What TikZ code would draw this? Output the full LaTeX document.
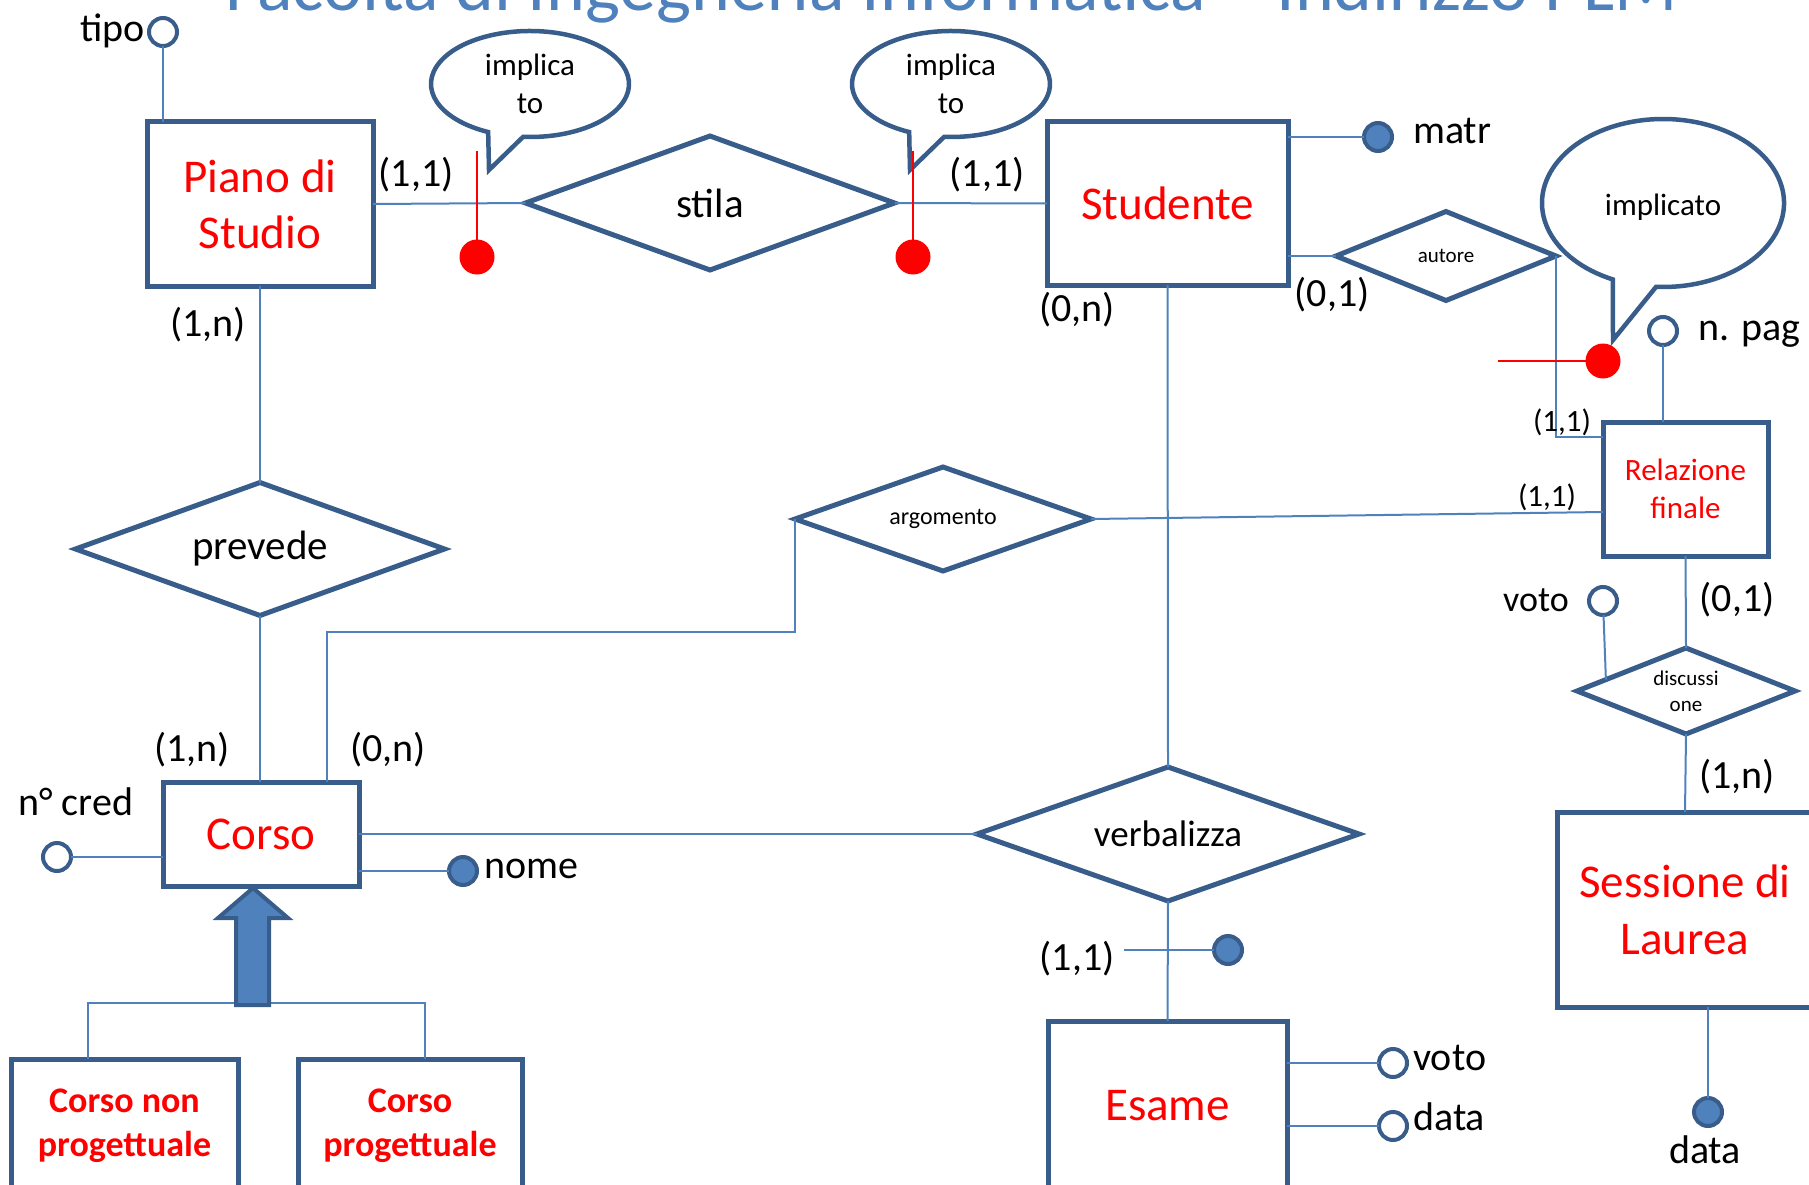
\documentclass[tikz,border=0pt]{standalone}
\usepackage{fontspec}
\setmainfont{Carlito}
\usetikzlibrary{shapes.geometric,calc}
\definecolor{bord}{HTML}{385D8A}
\definecolor{conn}{HTML}{4F81BD}
\begin{document}
\begin{tikzpicture}[x=1pt,y=-1pt,
  entsh/.style={rectangle,draw=bord,line width=5pt,fill=white,inner sep=0pt,outer sep=0pt,text=red,align=center,font=\fontsize{47}{56}\selectfont},
  relsh/.style={diamond,aspect=2.7,draw=bord,line width=5pt,fill=white,inner sep=0pt,outer sep=0pt,align=center,text=black},
  cn/.style={draw=conn,line width=2pt},
  attro/.style={circle,draw=bord,line width=4pt,fill=white,minimum size=28pt,inner sep=0pt,outer sep=0pt},
  attrf/.style={attro,fill=conn},
  lbl/.style={inner sep=0pt,text=black,font=\fontsize{40}{48}\selectfont},
  slbl/.style={inner sep=0pt,text=black,font=\fontsize{31}{38}\selectfont},
  redl/.style={draw=red,line width=2pt},
  redd/.style={circle,fill=red,minimum size=35pt,inner sep=0pt,outer sep=0pt},
  callout/.style={draw=bord,line width=4.5pt,fill=white}
]
\useasboundingbox (0,0) rectangle (1809,1185);

% title
\node[anchor=base west,inner sep=0pt,text=conn,font=\fontsize{74}{88}\selectfont] (title) at (225,11) {Facoltà di Ingegneria Informatica – Indirizzo PLM};

% helper coordinates
\coordinate (k1) at (327,632);
\coordinate (g1) at (88,1003);
\coordinate (g2) at (425,1003);
\coordinate (vs) at (1124,950);

% entities
\node[entsh,minimum width=226pt,minimum height=164pt] (piano) at (260,204) {Piano di\\Studio};
\node[entsh,minimum width=241pt,minimum height=163pt] (stud) at (1167.5,203.5) {Studente};
\node[entsh,minimum width=196pt,minimum height=104pt] (corso) at (261,834) {Corso};
\node[entsh,minimum width=165pt,minimum height=134pt,font=\fontsize{31}{38}\selectfont] (relf) at (1685.5,489) {Relazione\\finale};
\node[entsh,minimum width=256pt,minimum height=195pt,font=\fontsize{47}{57}\selectfont] (sess) at (1685,909.5) {Sessione di\\Laurea};
\node[entsh,minimum width=239pt,minimum height=170pt] (esame) at (1167.5,1106) {Esame};
\node[entsh,minimum width=227pt,minimum height=134pt,font=\bfseries\fontsize{36}{44}\selectfont] (cnp) at (124.5,1126) {Corso non\\progettuale};
\node[entsh,minimum width=224pt,minimum height=134pt,font=\bfseries\fontsize{36}{44}\selectfont] (cp) at (410,1126) {Corso\\progettuale};

% relationships
\node[relsh,minimum width=369pt,minimum height=134pt,font=\fontsize{41}{49}\selectfont] (stila) at (710,203) {stila};
\node[relsh,minimum width=369pt,minimum height=133pt,font=\fontsize{41}{49}\selectfont] (prevede) at (260,549) {prevede};
\node[relsh,minimum width=296pt,minimum height=104pt,font=\fontsize{24}{29}\selectfont] (argom) at (943,519) {argomento};
\node[relsh,minimum width=220pt,minimum height=89pt,font=\fontsize{21}{25}\selectfont] (autore) at (1446,256) {autore};
\node[relsh,minimum width=218pt,minimum height=86pt,font=\fontsize{21}{26}\selectfont] (discuss) at (1686,691) {discussi\\one};
\node[relsh,minimum width=382pt,minimum height=134pt,font=\fontsize{37}{44}\selectfont] (verbal) at (1168,834) {verbalizza};

% attributes
\node[attro] (tipo) at (163,32) {};
\node[attrf] (matr) at (1378,137) {};
\node[attro] (npag) at (1663,331) {};
\node[attro] (ncred) at (57,857) {};
\node[attrf] (nome) at (463,871) {};
\node[attro] (voto2) at (1603,601) {};
\node[attro] (evoto) at (1393,1063) {};
\node[attro] (edata) at (1393,1126) {};
\node[attrf] (vatt) at (1228,950) {};
\node[attrf] (sdata) at (1708,1112) {};

% connector lines
\draw[cn] (piano.east) -- (stila.west);
\draw[cn] (stila.east) -- (stud.west);
\draw[cn] (piano.south) -- (prevede.north);
\draw[cn] (prevede.south) -- (prevede.south |- corso.north);
\draw[cn] (corso.north -| k1) -- (k1) -| (argom.west);
\draw[cn] (argom.east) -- ([yshift=-23pt]relf.west);
\draw[cn] (stud.south) -- (verbal.north);
\draw[cn] (corso.east) -- (verbal.west);
\draw[cn] (verbal.south) -- (esame.north);
\draw[cn] (stud.east |- autore.west) -- (autore.west);
\draw[cn] (autore.east) |- ([yshift=52pt]relf.west);
\draw[cn] (relf.south) -- (discuss.north);
\draw[cn] (discuss.south) -- (sess.north);
\draw[cn] (tipo) -- (tipo |- piano.north);
\draw[cn] (stud.east |- matr) -- (matr);
\draw[cn] (npag) -- (npag |- relf.north);
\draw[cn] (ncred) -- (ncred -| corso.west);
\draw[cn] (nome -| corso.east) -- (nome);
\draw[cn] (voto2) -- ($(discuss.west)!0.265!(discuss.north)$);
\draw[cn] (esame.east |- evoto) -- (evoto);
\draw[cn] (esame.east |- edata) -- (edata);
\draw[cn] (vs) -- (vatt);
\draw[cn] (sdata |- sess.south) -- (sdata);
\draw[cn] (cnp.north -| g1) |- (g2) -- (g2 |- cp.north);

% generalization arrow
\draw[draw=bord,fill=conn,line width=4pt,line join=miter]
  (236,1005) -- (236,918) -- (218,918) -- (253,888) -- (288,918) -- (269,918) -- (269,1005) -- cycle;

% callouts
\coordinate (c1) at (530,84);
\coordinate (c2) at (951,84);
\coordinate (c3) at (1663,203);
\draw[callout] (c1) ++(115:99 and 53) arc[start angle=115,end angle=454,x radius=99,y radius=53] -- (489,170) -- cycle;
\draw[callout] (c2) ++(115:99 and 53) arc[start angle=115,end angle=454,x radius=99,y radius=53] -- (910,170) -- cycle;
\draw[callout] (c3) ++(114.5:121 and 84) arc[start angle=114.5,end angle=453.3,x radius=121,y radius=84] -- (1613,340) -- cycle;
\node[slbl,anchor=base] (i1a) at (530,76) {implica};
\node[slbl,anchor=base] (i1b) at (530,114) {to};
\node[slbl,anchor=base] (i2a) at (951,76) {implica};
\node[slbl,anchor=base] (i2b) at (951,114) {to};
\node[slbl,anchor=base] (i3) at (1663,215) {implicato};

% red markers
\node[redd] (rd1) at (477,257) {};
\node[redd] (rd2) at (913,257) {};
\node[redd] (rd3) at (1603,361) {};
\coordinate (rt1) at (477,151);
\coordinate (rt2) at (913,151);
\coordinate (rt3) at (1498,361);
\draw[redl] (rt1) -- (rd1);
\draw[redl] (rt2) -- (rd2);
\draw[redl] (rt3) -- (rd3);

% labels
\node[lbl] (l1) at (416,175) {(1,1)};
\node[lbl] (l2) at (987,175) {(1,1)};
\node[lbl] (l3) at (208,325) {(1,n)};
\node[lbl] (l4) at (1077,310) {(0,n)};
\node[lbl] (l5) at (1332,295) {(0,1)};
\node[slbl] (l6) at (1562,422) {(1,1)};
\node[slbl] (l7) at (1547,497) {(1,1)};
\node[lbl] (l8) at (1737,600) {(0,1)};
\node[lbl] (l9) at (1737,777) {(1,n)};
\node[lbl] (l10) at (192,750) {(1,n)};
\node[lbl] (l11) at (388,750) {(0,n)};
\node[lbl] (l12) at (1077,959) {(1,1)};

\node[lbl,anchor=base east] (ttipo) at (145,42) {tipo};
\node[lbl,anchor=base west] (tmatr) at (1413,144) {matr};
\node[lbl,anchor=base west] (tnpag) at (1698,340) {n. pag};
\node[lbl,anchor=base west] (tncred) at (18,815) {n° cred};
\node[lbl,anchor=base west] (tnome) at (484,878) {nome};
\node[lbl,anchor=base west,font=\fontsize{36}{44}\selectfont] (tvoto2) at (1503,611) {voto};
\node[lbl,anchor=base west] (tevoto) at (1413,1070) {voto};
\node[lbl,anchor=base west] (tedata) at (1413,1130) {data};
\node[lbl,anchor=base] (tsdata) at (1705,1163) {data};
\end{tikzpicture}
\end{document}
